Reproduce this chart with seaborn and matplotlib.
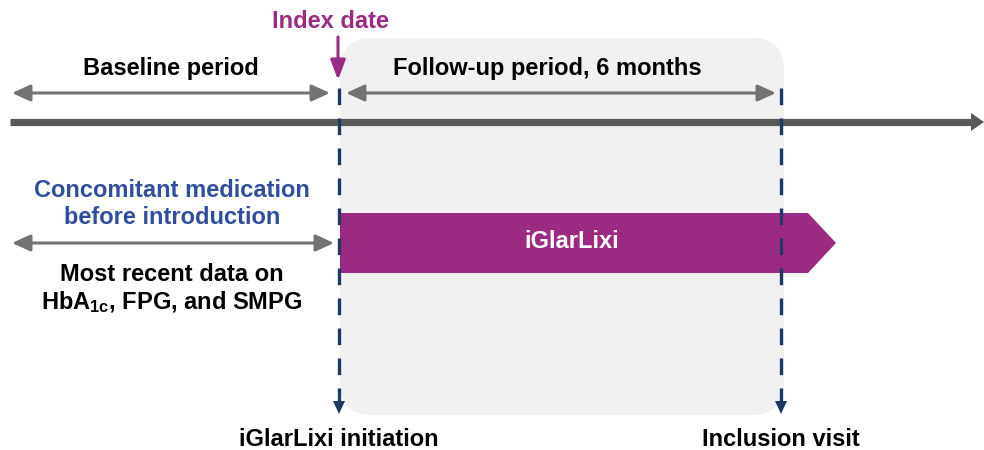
import matplotlib
matplotlib.use("Agg")
import matplotlib.pyplot as plt
import seaborn as sns
from matplotlib.patches import FancyBboxPatch, Polygon

sns.set_theme(style="white")
plt.rcParams['font.family'] = ['Liberation Sans', 'DejaVu Sans']
plt.rcParams['mathtext.fontset'] = 'custom'
plt.rcParams['mathtext.rm'] = 'Liberation Sans:bold'
plt.rcParams['mathtext.bf'] = 'Liberation Sans:bold'
plt.rcParams['mathtext.it'] = 'Liberation Sans:bold'

# ---- content ----
period_labels = ["Baseline period", "Follow-up period, 6 months"]
index_label = "Index date"
left_labels = ["Concomitant medication\nbefore introduction",
               "Most recent data on\nHbA$_{\\mathbf{1c}}$, FPG, and SMPG"]
bar_label = "iGlarLixi"
bottom_labels = ["iGlarLixi initiation", "Inclusion visit"]

PURPLE = "#9b2b82"
GRAY = "#737373"
DARK = "#595959"
NAVY = "#1f3864"
BLUE = "#2f4f9e"
BOX = "#f1f1f1"
FS = 17

fig = plt.figure(figsize=(9.84, 4.5), dpi=100)
ax = fig.add_axes([0, 0, 1, 1])
ax.set_xlim(0, 984)
ax.set_ylim(450, 0)
ax.axis("off")

# follow-up box
ax.add_patch(FancyBboxPatch((340, 38), 444, 377,
                            boxstyle="round,pad=0,rounding_size=32",
                            fc=BOX, ec="none", zorder=0))

# main timeline
ax.plot([10, 973], [122, 122], color=DARK, lw=5.2, solid_capstyle="butt", zorder=2)
ax.add_patch(Polygon([[971, 113], [984, 122], [971, 131]], closed=True,
                     fc=DARK, ec="none", zorder=2))

AP = dict(color=GRAY, lw=2.2, shrinkA=0, shrinkB=0, mutation_scale=10)

def darrow(x0, x1, y):
    ax.annotate("", xy=(x1, y), xytext=(x0, y),
                arrowprops=dict(arrowstyle="<|-|>,head_length=1.1,head_width=0.5", **AP),
                zorder=3)

darrow(12, 330, 93)
darrow(346, 776, 93)
darrow(12, 334, 243)

# dashed vertical lines with arrowheads
for x in (339, 781):
    ax.plot([x, x], [88, 402], color=NAVY, lw=2.4, ls=(0, (5.0, 4.0)), zorder=4)
    ax.add_patch(Polygon([[x - 6, 401], [x + 6, 401], [x, 414]], closed=True,
                         fc=NAVY, ec="none", zorder=4))

# index date arrow
ax.annotate("", xy=(338, 80), xytext=(338, 37),
            arrowprops=dict(arrowstyle="-|>,head_length=1.2,head_width=0.45",
                            color=PURPLE, lw=2.2, shrinkA=0, shrinkB=0,
                            mutation_scale=10), zorder=5)
ax.text(331, 22, index_label, color=PURPLE, fontsize=FS, fontweight="bold",
        ha="center", va="center")

# period labels
ax.text(171, 68, period_labels[0], fontsize=FS, fontweight="bold",
        color="black", ha="center", va="center")
ax.text(547, 68, period_labels[1], fontsize=FS, fontweight="bold",
        color="black", ha="center", va="center")

# left labels
ax.text(172, 204, left_labels[0], fontsize=FS, fontweight="bold", color=BLUE,
        ha="center", va="center", linespacing=1.2)
ax.text(172, 289, left_labels[1], fontsize=FS, fontweight="bold", color="black",
        ha="center", va="center", linespacing=1.15)

# iGlarLixi bar
ax.add_patch(Polygon([[340, 213], [808, 213], [836, 243], [808, 273], [340, 273]],
                     closed=True, fc=PURPLE, ec="none", zorder=3))
ax.text(572, 242, bar_label, fontsize=FS, fontweight="bold", color="white",
        ha="center", va="center", zorder=6)

# bottom labels
ax.text(339, 440, bottom_labels[0], fontsize=FS, fontweight="bold", color="black",
        ha="center", va="center")
ax.text(781, 440, bottom_labels[1], fontsize=FS, fontweight="bold", color="black",
        ha="center", va="center")

fig.savefig("out.png", dpi=100)
